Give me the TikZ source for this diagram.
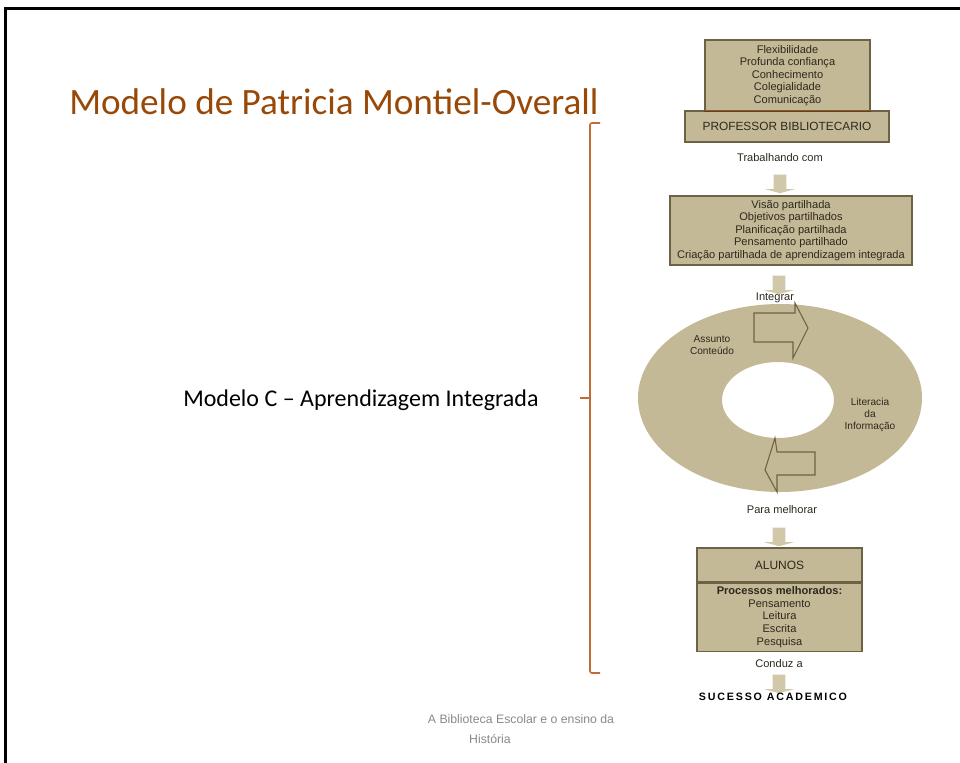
\documentclass[tikz,border=0pt]{standalone}
\usepackage{fontspec}
\setmainfont{Liberation Sans}
\newfontfamily\calibri{Carlito}
\newfontfamily\spaced[LetterSpace=17]{Liberation Sans}
\usetikzlibrary{shapes.arrows}
\definecolor{tanfill}{RGB}{196,185,150}
\definecolor{olive}{RGB}{110,98,70}
\definecolor{tbrown}{RGB}{152,72,7}
\definecolor{bracec}{RGB}{190,110,50}
\definecolor{txt}{RGB}{45,40,30}
\definecolor{lighttan}{RGB}{208,200,168}
\definecolor{foot}{RGB}{137,137,137}
\tikzset{
  box/.style={draw=olive, fill=tanfill, line width=0.8pt, inner sep=0pt, align=center,
    font=\fontsize{8.3}{9.4}\selectfont, text=txt},
  lbl/.style={inner sep=0pt, align=center, font=\fontsize{8.3}{9.4}\selectfont, text=txt},
  ringlbl/.style={inner sep=0pt, align=center, font=\fontsize{7.6}{9}\selectfont, text=txt},
  smallarrow/.style={single arrow, shape border rotate=270, fill=lighttan, draw=none,
    inner sep=4.5pt, minimum height=14pt, single arrow head extend=6.5pt,
    single arrow tip angle=150},
  ringarrow/.style={draw=olive, fill=tanfill, line width=0.8pt, line join=miter},
}
\begin{document}
\begin{tikzpicture}[x=0.75pt,y=-0.75pt]
\useasboundingbox (0,0) rectangle (960,763);
% frame
\draw[line width=2.4pt] (5.5,763) -- (5.5,8.5) -- (960,8.5);
% title
\node[anchor=base west, inner sep=0pt, font=\calibri\fontsize{27.9}{30}\selectfont, text=tbrown] (title) at (69,115) {Modelo de Patricia Montiel-Overall};
\node[anchor=base west, inner sep=0pt, font=\calibri\fontsize{18}{20}\selectfont, text=black] (modelc) at (183,406) {Modelo C – Aprendizagem Integrada};
% bracket
\coordinate (bmid) at (580,398);
\draw[bracec, line width=1.2pt, rounded corners=1.5pt] (600,123) -- (590,123) -- (590,673) -- (600,673);
\draw[bracec, line width=1.2pt] (bmid) -- (590,398);
% boxes
\node[box, minimum width=153pt, minimum height=23.25pt, font=\fontsize{8.9}{10}\selectfont] (prof) at (787,126.5) {PROFESSOR BIBLIOTECARIO};
\node[box, minimum width=123.75pt, minimum height=53.25pt] (flex) at (787.5,75.5) {Flexibilidade\\Profunda confiança\\Conhecimento\\Colegialidade\\Comunicação};
\draw[tbrown!80!black, line width=0.9pt] (flex.south west) -- (flex.south east);
\node[lbl] (trab) at (780,158) {Trabalhando com};
\node[smallarrow] (a1) at (780,183) {};
\node[box, minimum width=181.5pt, minimum height=51.75pt] (visao) at (791,230.5) {Visão partilhada\\Objetivos partilhados\\Planificação partilhada\\Pensamento partilhado\\Criação partilhada de aprendizagem integrada};
\node[smallarrow] (a2) at (779,284) {};
% ring
\path[fill=tanfill, even odd rule] (780,398) ellipse [x radius=106.5pt, y radius=70.5pt] (778,400) ellipse [x radius=42pt, y radius=28.5pt];
\draw[ringarrow] (754,313) -- (795,313) -- (795,303) -- (808,328) -- (793,358) -- (793,342) -- (754,342) -- cycle;
\draw[ringarrow] (815,452) -- (777,452) -- (775,438) -- (765,470) -- (777,492) -- (777,475) -- (815,475) -- cycle;
\node[lbl] (integ) at (775,298) {Integrar};
\node[ringlbl] (assunto) at (712,345) {Assunto\\Conteúdo};
\node[ringlbl] (lit) at (870,415) {Literacia\\da\\Informação};
\node[lbl] (para) at (782,510) {Para melhorar};
\node[smallarrow] (a3) at (779,536) {};
\node[box, minimum width=123.75pt, minimum height=25.5pt, font=\fontsize{9}{10}\selectfont] (alunos) at (779.5,565) {ALUNOS};
\node[box, minimum width=123.75pt, minimum height=51pt, anchor=north] (proc) at (alunos.south) {\textbf{Processos melhorados:}\\Pensamento\\Leitura\\Escrita\\Pesquisa};
\node[lbl] (conduz) at (779,664) {Conduz a};
\node[smallarrow] (a4) at (779,683) {};
\node[inner sep=0pt, font=\spaced\bfseries\fontsize{8}{9}\selectfont, text=black] (suc) at (773,697) {SUCESSO ACADEMICO};
% footer
\node[inner sep=0pt, font=\fontsize{9.2}{11}\selectfont, text=foot] (foot1) at (521,719) {A Biblioteca Escolar e o ensino da};
\node[inner sep=0pt, font=\fontsize{9.2}{11}\selectfont, text=foot] (foot2) at (490,739) {História};
\end{tikzpicture}
\end{document}
